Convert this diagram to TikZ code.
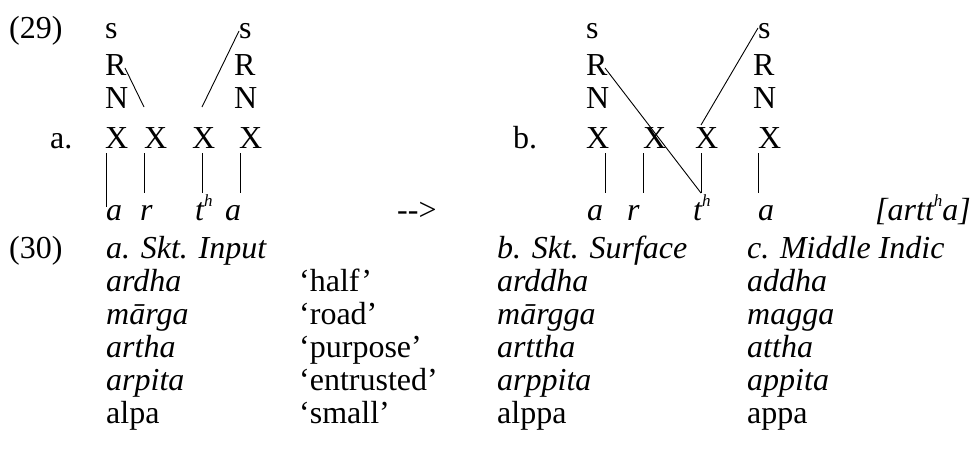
\documentclass[tikz,border=0pt]{standalone}
\usepackage{fontspec}
\setmainfont{Liberation Serif}[ItalicFont={Liberation Serif Italic},BoldFont={Liberation Serif Bold}]
\newcommand{\aspH}{\raisebox{0.42em}{\fontsize{17}{17}\selectfont h}}
\begin{document}
\begin{tikzpicture}[x=1pt,y=-1pt,
  every node/.style={inner sep=0pt,anchor=base west,font=\fontsize{32}{38}\selectfont},
  it/.style={font=\fontsize{32}{38}\selectfont\itshape},
  ln/.style={draw=black,line width=0.9pt}]
\path[fill=white,use as bounding box] (0,0) rectangle (976,455);
% ---- (29) left diagram
\node (n29) at (9,38) {(29)};
\node (la) at (50,148) {a.};
\node (ls1) at (105,38) {s};
\node (lR1) at (105,75) {R};
\node (lN1) at (105,108) {N};
\node (lX1) at (105,148) {X};
\node (lX2) at (144,148) {X};
\node (lX3) at (192,148) {X};
\node (lX4) at (239,148) {X};
\node (ls2) at (239,38) {s};
\node (lR2) at (234,75) {R};
\node (lN2) at (234,108) {N};
\node[it] (lb1) at (106,220) {a};
\node[it] (lb2) at (140,220) {r};
\node[it] (lb3) at (195,220) {t\aspH};
\node[it] (lb4) at (225,220) {a};
\coordinate (lRa) at (125,68); \coordinate (lRb) at (144,107);
\coordinate (lsa) at (239,31); \coordinate (lsb) at (202,107);
\draw[ln] (lRa) -- (lRb);
\draw[ln] (lsa) -- (lsb);
\coordinate (lv1a) at (106,153); \coordinate (lv1b) at (106,207);
\coordinate (lv2a) at (144,153); \coordinate (lv2b) at (144,193);
\coordinate (lv3a) at (202,153); \coordinate (lv3b) at (202,193);
\coordinate (lv4a) at (240,153); \coordinate (lv4b) at (240,193);
\draw[ln] (lv1a) -- (lv1b);
\draw[ln] (lv2a) -- (lv2b);
\draw[ln] (lv3a) -- (lv3b);
\draw[ln] (lv4a) -- (lv4b);
% arrow text
\node (arr) at (397,220) {-{}->};
% ---- right diagram
\node (rb) at (513,148) {b.};
\node (rs1) at (586,38) {s};
\node (rR1) at (586,75) {R};
\node (rN1) at (586,108) {N};
\node (rX1) at (586,148) {X};
\node (rX2) at (643,148) {X};
\node (rX3) at (695,148) {X};
\node (rX4) at (758,148) {X};
\node (rs2) at (758,38) {s};
\node (rR2) at (753,75) {R};
\node (rN2) at (753,108) {N};
\node[it] (rb1) at (587,220) {a};
\node[it] (rb2) at (627,220) {r};
\node[it] (rb3) at (693,220) {t\aspH};
\node[it] (rb4) at (758,220) {a};
\node[it] (rout) at (875,220) {[artt\aspH a]};
\coordinate (rRa) at (605,68); \coordinate (rRb) at (701,193);
\coordinate (rsa) at (758,28); \coordinate (rsb) at (701,125);
\draw[ln] (rRa) -- (rRb);
\draw[ln] (rsa) -- (rsb);
\coordinate (rv1a) at (605,153); \coordinate (rv1b) at (605,193);
\coordinate (rv2a) at (643,153); \coordinate (rv2b) at (643,193);
\coordinate (rv3a) at (701,153); \coordinate (rv3b) at (701,193);
\coordinate (rv4a) at (758,153); \coordinate (rv4b) at (758,193);
\draw[ln] (rv1a) -- (rv1b);
\draw[ln] (rv2a) -- (rv2b);
\draw[ln] (rv3a) -- (rv3b);
\draw[ln] (rv4a) -- (rv4b);
% ---- (30) table
\node (n30) at (9,258) {(30)};
\node[it] (h1) at (106,258) {a. Skt. Input};
\node[it] (h3) at (497,258) {b. Skt. Surface};
\node[it] (h4) at (747,258) {c. Middle Indic};
\node[it] (w11) at (106,291) {ardha};
\node (w12) at (299,291) {‘half’};
\node[it] (w13) at (497,291) {arddha};
\node[it] (w14) at (747,291) {addha};
\node[it] (w21) at (106,324) {mārga};
\node (w22) at (299,324) {‘road’};
\node[it] (w23) at (497,324) {mārgga};
\node[it] (w24) at (747,324) {magga};
\node[it] (w31) at (106,357) {artha};
\node (w32) at (299,357) {‘purpose’};
\node[it] (w33) at (497,357) {arttha};
\node[it] (w34) at (747,357) {attha};
\node[it] (w41) at (106,390) {arpita};
\node (w42) at (299,390) {‘entrusted’};
\node[it] (w43) at (497,390) {arppita};
\node[it] (w44) at (747,390) {appita};
\node (w51) at (106,423) {alpa};
\node (w52) at (299,423) {‘small’};
\node (w53) at (497,423) {alppa};
\node (w54) at (747,423) {appa};
\end{tikzpicture}
\end{document}
